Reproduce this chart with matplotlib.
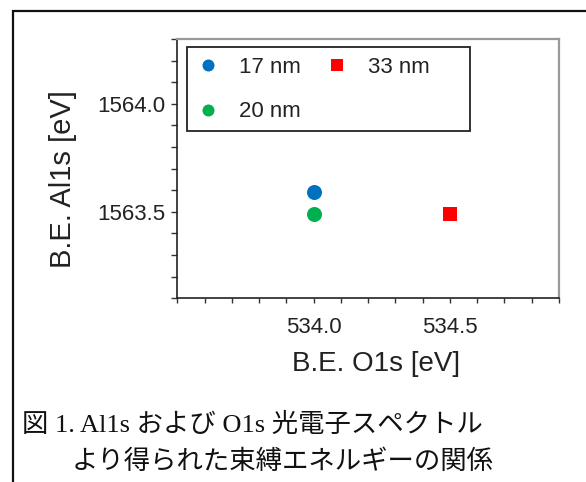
import matplotlib
matplotlib.use("Agg")
import matplotlib.pyplot as plt
from matplotlib.ticker import MultipleLocator, FuncFormatter
from matplotlib.patches import Rectangle

# Binding energies of each film thickness
series_labels = ["17 nm", "20 nm", "33 nm"]
be_o1s = [534.0, 534.0, 534.5]          # B.E. O1s [eV]
be_al1s = [1563.59, 1563.49, 1563.49]   # B.E. Al1s [eV]
series_colors = ["#0070C0", "#00B050", "#FF0000"]
series_markers = ["o", "o", "s"]

x_label = "B.E. O1s [eV]"
y_label = "B.E. Al1s [eV]"
caption_line1 = "図 1. Al1s および O1s 光電子スペクトル"
caption_line2 = "より得られた束縛エネルギーの関係"

W, H = 586, 482
fig = plt.figure(figsize=(W / 100, H / 100), dpi=100)
fig.patch.set_facecolor("white")

sans = ["Liberation Sans", "DejaVu Sans"]
text_color = "#222222"


def fx(px):
    return px / W


def fy(py):
    return 1 - py / H


# outer frame (runs off the right and bottom edges)
fig.patches.append(Rectangle((fx(13), -0.1), 1.2, fy(11) + 0.1,
                             transform=fig.transFigure, fill=False,
                             edgecolor="#111111", linewidth=1.6))

left, right, top, bottom = 177.3, 559.0, 39.0, 298.3
ax = fig.add_axes([fx(left), fy(bottom), (right - left) / W, (bottom - top) / H])

for lab, x, y, c, m in zip(series_labels, be_o1s, be_al1s, series_colors, series_markers):
    ax.plot([x], [y], linestyle="none", marker=m, color=c,
            markersize=10.8 if m == "o" else 10.0, markeredgewidth=0, label=lab)

ax.set_xlim(533.5, 534.9)
ax.set_ylim(1563.1, 1564.3)

ax.xaxis.set_major_locator(MultipleLocator(0.5))
ax.xaxis.set_minor_locator(MultipleLocator(0.1))
ax.yaxis.set_major_locator(MultipleLocator(0.5))
ax.yaxis.set_minor_locator(MultipleLocator(0.1))

ax.xaxis.set_major_formatter(FuncFormatter(lambda v, p: f"{v:.1f}" if v > 533.75 else ""))
ax.yaxis.set_major_formatter(FuncFormatter(lambda v, p: f"{v:.1f}" if v > 1563.25 else ""))

ax.tick_params(which="both", direction="out", color="#333333", width=1.0)
ax.tick_params(axis="y", which="both", length=4.5, pad=4)
ax.tick_params(axis="x", which="both", length=3.5, pad=10)
ax.tick_params(labelsize=16, labelcolor=text_color)
for t in ax.get_xticklabels() + ax.get_yticklabels():
    t.set_family(sans)

for side in ("left", "bottom"):
    ax.spines[side].set_color("#222222")
    ax.spines[side].set_linewidth(1.2)
for side in ("top", "right"):
    ax.spines[side].set_color("#999999")
    ax.spines[side].set_linewidth(1.6)

ax.set_xlabel(x_label, fontsize=20, family=sans, color=text_color)
ax.xaxis.set_label_coords((376 - left) / (right - left), -(364 - bottom) / (bottom - top))
ax.xaxis.label.set_va("center")
ax.set_ylabel(y_label, fontsize=21, family=sans, color=text_color)
ax.yaxis.set_label_coords(-(left - 63) / (right - left), (bottom - 179) / (bottom - top))
ax.yaxis.label.set_va("center")

# legend box drawn separately so its size is independent of the entries
fig.patches.append(Rectangle((fx(187), fy(131)), (470 - 187) / W, (131 - 47) / H,
                             transform=fig.transFigure, fill=False,
                             edgecolor="#222222", linewidth=1.3, zorder=5))
leg = ax.legend(ncol=2, loc="upper left",
                bbox_to_anchor=(fx(197), fy(57)), bbox_transform=fig.transFigure,
                frameon=False, prop={"family": sans, "size": 16}, markerscale=0.8,
                handlelength=1.0, handletextpad=0.9, columnspacing=1.1,
                labelspacing=1.05, borderpad=0.0, borderaxespad=0)
for t in leg.get_texts():
    t.set_color(text_color)

cap_family = ["Liberation Serif", "Noto Sans CJK JP"]
fig.text(fx(22), fy(425), caption_line1, fontsize=19, family=cap_family,
         color="#111111", va="center", ha="left")
fig.text(fx(72), fy(462), caption_line2, fontsize=19, family=cap_family,
         color="#111111", va="center", ha="left")

fig.savefig("out.png", dpi=100, facecolor="white")
